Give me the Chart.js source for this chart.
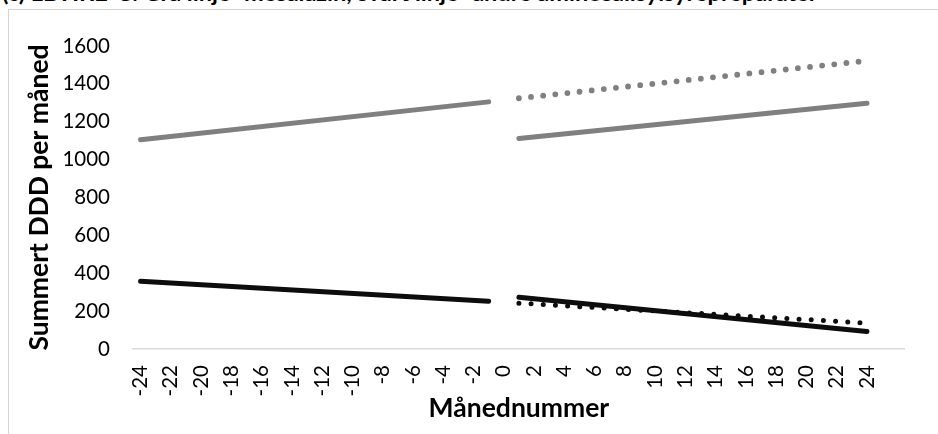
<!DOCTYPE html>
<html>
<head>
<meta charset="utf-8">
<script src="https://cdn.jsdelivr.net/npm/chart.js@4/dist/chart.umd.min.js"></script>
<style>
  html, body { margin: 0; padding: 0; background: #fff; overflow: hidden; }
  #wrap { position: relative; width: 938px; height: 434px; overflow: hidden; }
  #frame { position: absolute; left: 8px; top: 9px; right: -10px; bottom: -10px;
           border-left: 1px solid #d4d4d4; border-top: 1px solid #d4d4d4; }
  #title { position: absolute; left: 2px; top: -19px; font: bold 23.5px/23.5px Lato, sans-serif;
           white-space: nowrap; color: #000; }
  #chart { position: absolute; left: 0; top: 0; }
</style>
</head>
<body>
<div id="wrap">
  <div id="title">(c) LDHRE-C: Grå linje=mesalazin, svart linje=andre aminosalisylsyrepreparater</div>
  <div id="frame"></div>
  <canvas id="chart" width="938" height="434"></canvas>
</div>
<script>
// Month numbers around the intervention (two empty slots pad the axis end)
const months = ['-24','-23','-22','-21','-20','-19','-18','-17','-16','-15','-14','-13',
                '-12','-11','-10','-9','-8','-7','-6','-5','-4','-3','-2','-1','0',
                '1','2','3','4','5','6','7','8','9','10','11','12','13','14','15','16',
                '17','18','19','20','21','22','23','24','',''];

// Trend line end points: [value at first month, value at last month]
const beforeMonths = ['-24', '-1'];
const afterMonths  = ['1', '24'];

const mesalazinBefore      = [1105, 1305];
const mesalazinAfter       = [1112, 1298];
const mesalazinProjected   = [1324, 1522];

const otherBefore          = [358, 252];
const otherAfter           = [273, 92];
const otherProjected       = [242, 137];

const yTicks = { min: 0, max: 1600, step: 200 };

function segment(span, values) {
  return months.map(m => m === span[0] ? values[0] : (m === span[1] ? values[1] : null));
}

const GRAY = '#808080';
const BLACK = '#0d0d0d';

function solid(data, color) {
  return { data, borderColor: color, borderWidth: 5, borderCapStyle: 'round',
           pointRadius: 0, spanGaps: true, fill: false, tension: 0 };
}
function dotted(data, color, width) {
  return { data, borderColor: color, borderWidth: width, borderCapStyle: 'round',
           borderDash: [0, 12.2], pointRadius: 0, spanGaps: true, fill: false, tension: 0 };
}

const tickFont = { family: 'Lato', size: 20.5 };
const titleFont = { family: 'Lato', size: 26.5, weight: 'bold', lineHeight: 1 };

new Chart(document.getElementById('chart'), {
  type: 'line',
  data: {
    labels: months,
    datasets: [
      solid(segment(beforeMonths, otherBefore), BLACK),
      solid(segment(afterMonths, otherAfter), BLACK),
      solid(segment(beforeMonths, mesalazinBefore), GRAY),
      solid(segment(afterMonths, mesalazinAfter), GRAY),
      dotted(segment(afterMonths, otherProjected), BLACK, 5),
      dotted(segment(afterMonths, mesalazinProjected), GRAY, 5.8)
    ]
  },
  options: {
    responsive: false,
    animation: false,
    events: [],
    layout: { padding: { left: 0, right: 18, top: 46, bottom: 0 } },
    plugins: { legend: { display: false }, tooltip: { enabled: false } },
    scales: {
      x: {
        type: 'category',
        offset: true,
        grid: { display: false, drawTicks: false },
        border: { display: true, color: '#d9d9d9', width: 1.5 },
        ticks: {
          autoSkip: false, minRotation: 90, maxRotation: 90, padding: 16,
          color: '#000', font: tickFont,
          callback: (value, index) => (index % 2 === 0 ? months[index] : '')
        },
        title: { display: true, text: 'Månednummer', color: '#000', font: titleFont,
                 padding: { top: 0, bottom: 12 } },
        afterFit: (scale) => { scale.height = 85; }
      },
      y: {
        min: yTicks.min, max: yTicks.max,
        grid: { display: false, drawTicks: false },
        border: { display: false },
        ticks: { stepSize: yTicks.step, padding: 23, color: '#000', font: tickFont,
                 callback: (value) => String(value) },
        title: { display: true, text: 'Summert DDD per måned', color: '#000', font: titleFont,
                 padding: { top: 26, bottom: 0 } },
        afterFit: (scale) => { scale.width = 133; }
      }
    }
  }
});
</script>
</body>
</html>
